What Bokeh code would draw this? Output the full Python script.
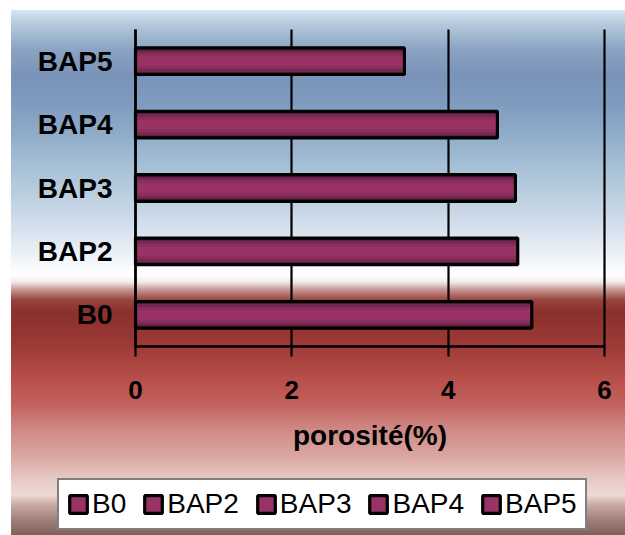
from bokeh.plotting import figure
from bokeh.models import Legend, LegendItem, FixedTicker
from bokeh.embed import file_html
from bokeh.resources import INLINE

categories = ["B0", "BAP2", "BAP3", "BAP4", "BAP5"]
porosity = [5.07, 4.89, 4.86, 4.63, 3.44]
x_ticks = [0, 2, 4, 6]
x_title = "porosité(%)"

FONT = "Liberation Sans"
W, H = 625, 535
# pixel layout of the plotting area inside the full-canvas frame
X0_PX, X6_PX = 135, 604
TOP_PX, BOT_PX = 29, 346
kx = (X6_PX - X0_PX) / 6.0
n = len(categories)
ky = (BOT_PX - TOP_PX) / n
y_pos = list(range(n))

x_range = (-X0_PX / kx, 6 + (W - X6_PX) / kx)
y_range = (-0.5 - (H - BOT_PX) / ky, n - 0.5 + TOP_PX / ky)

p = figure(width=W, height=H, x_range=x_range, y_range=y_range, title=None,
           output_backend="svg", toolbar_location=None,
           min_border_left=0, min_border_right=0, min_border_top=0, min_border_bottom=0)

p.background_fill_color = None
p.border_fill_color = None
p.outline_line_color = None
p.xgrid.grid_line_color = None
p.ygrid.grid_line_color = None

stops = [
    (0, "#d8e6f3"), (15, "#b3c7dc"), (40, "#8aa3c3"), (65, "#7a93b8"), (95, "#7f9cc0"),
    (125, "#90acc9"), (155, "#a5bfd6"), (190, "#bfd1e2"), (225, "#dbe4ef"), (252, "#f4f7fa"),
    (265, "#ffffff"), (272, "#f3ebea"), (280, "#c4938f"), (290, "#98433e"), (302, "#8a302c"),
    (335, "#9c3a37"), (370, "#b84f4b"), (395, "#c4625e"), (420, "#cf8a86"), (445, "#daa5a1"),
    (468, "#e6c8c2"), (485, "#eddad6"), (495, "#c8aaa3"), (510, "#a0807a"), (525, "#7f5f58"),
]
grad = ", ".join(f"{c} {y}px" for y, c in stops)
p.styles = {
    "background-color": "white",
    "background-image": f"linear-gradient(to bottom, {grad})",
    "background-size": "614px 525px",
    "background-position": "11px 10px",
    "background-repeat": "no-repeat",
}

# bars: layered to mimic the shaded look
p.hbar(y=y_pos, left=0, right=porosity, height=0.42, fill_color="#4e1834", line_color=None)
p.hbar(y=y_pos, left=0, right=porosity, height=0.34, fill_color="#742850", line_color=None)
p.hbar(y=y_pos, left=0, right=porosity, height=0.25, fill_color="#8a2f5d", line_color=None)
r_light = p.hbar(y=y_pos, left=0, right=porosity, height=0.15, fill_color="#993366", line_color=None)
r_out = p.hbar(y=y_pos, left=0, right=porosity, height=0.42, fill_color=None,
               line_color="black", line_width=3.2)

# x axis pinned at the bottom of the category band; its long inward ticks form the grid
xa = p.xaxis[0]
xa.fixed_location = -0.5
xa.level = "underlay"
xa.bounds = (0, 6)
xa.ticker = FixedTicker(ticks=x_ticks)
xa.axis_line_color = "black"
xa.axis_line_width = 2.5
xa.major_tick_line_color = "black"
xa.major_tick_line_width = 2.2
xa.major_tick_out = 10
xa.major_tick_in = int(BOT_PX - TOP_PX)
xa.minor_tick_line_color = None
xa.major_label_text_font = FONT
xa.major_label_text_font_size = "26px"
xa.major_label_text_font_style = "bold"
xa.major_label_text_color = "black"
xa.major_label_standoff = 24
xa.axis_label = x_title
xa.axis_label_text_font = FONT
xa.axis_label_text_font_size = "28px"
xa.axis_label_text_font_style = "bold"
xa.axis_label_text_color = "black"
xa.axis_label_standoff = 18

# y axis pinned at x = 0
ya = p.yaxis[0]
ya.fixed_location = 0
ya.bounds = (-0.5, n - 0.5)
ya.ticker = FixedTicker(ticks=y_pos)
ya.major_label_overrides = {i: c for i, c in enumerate(categories)}
ya.axis_line_color = "black"
ya.axis_line_width = 2.5
ya.major_tick_line_color = None
ya.major_tick_out = 0
ya.major_tick_in = 0
ya.minor_tick_line_color = None
ya.major_label_text_font = FONT
ya.major_label_text_font_size = "28px"
ya.major_label_text_font_style = "bold"
ya.major_label_text_color = "black"
ya.major_label_standoff = 23

items = [LegendItem(label=c, renderers=[r_light, r_out], index=i) for i, c in enumerate(categories)]
legend = Legend(items=items, orientation="horizontal", location=(57, 5))
legend.border_line_color = "black"
legend.border_line_width = 2.5
legend.background_fill_color = "white"
legend.background_fill_alpha = 1
legend.label_text_font = FONT
legend.label_text_font_size = "28px"
legend.label_text_color = "black"
legend.glyph_width = 22
legend.glyph_height = 22
legend.label_standoff = 3
legend.spacing = 16
legend.padding = 8
legend.margin = 0
p.add_layout(legend, "center")

open("out.html", "w").write(file_html(p, INLINE))
